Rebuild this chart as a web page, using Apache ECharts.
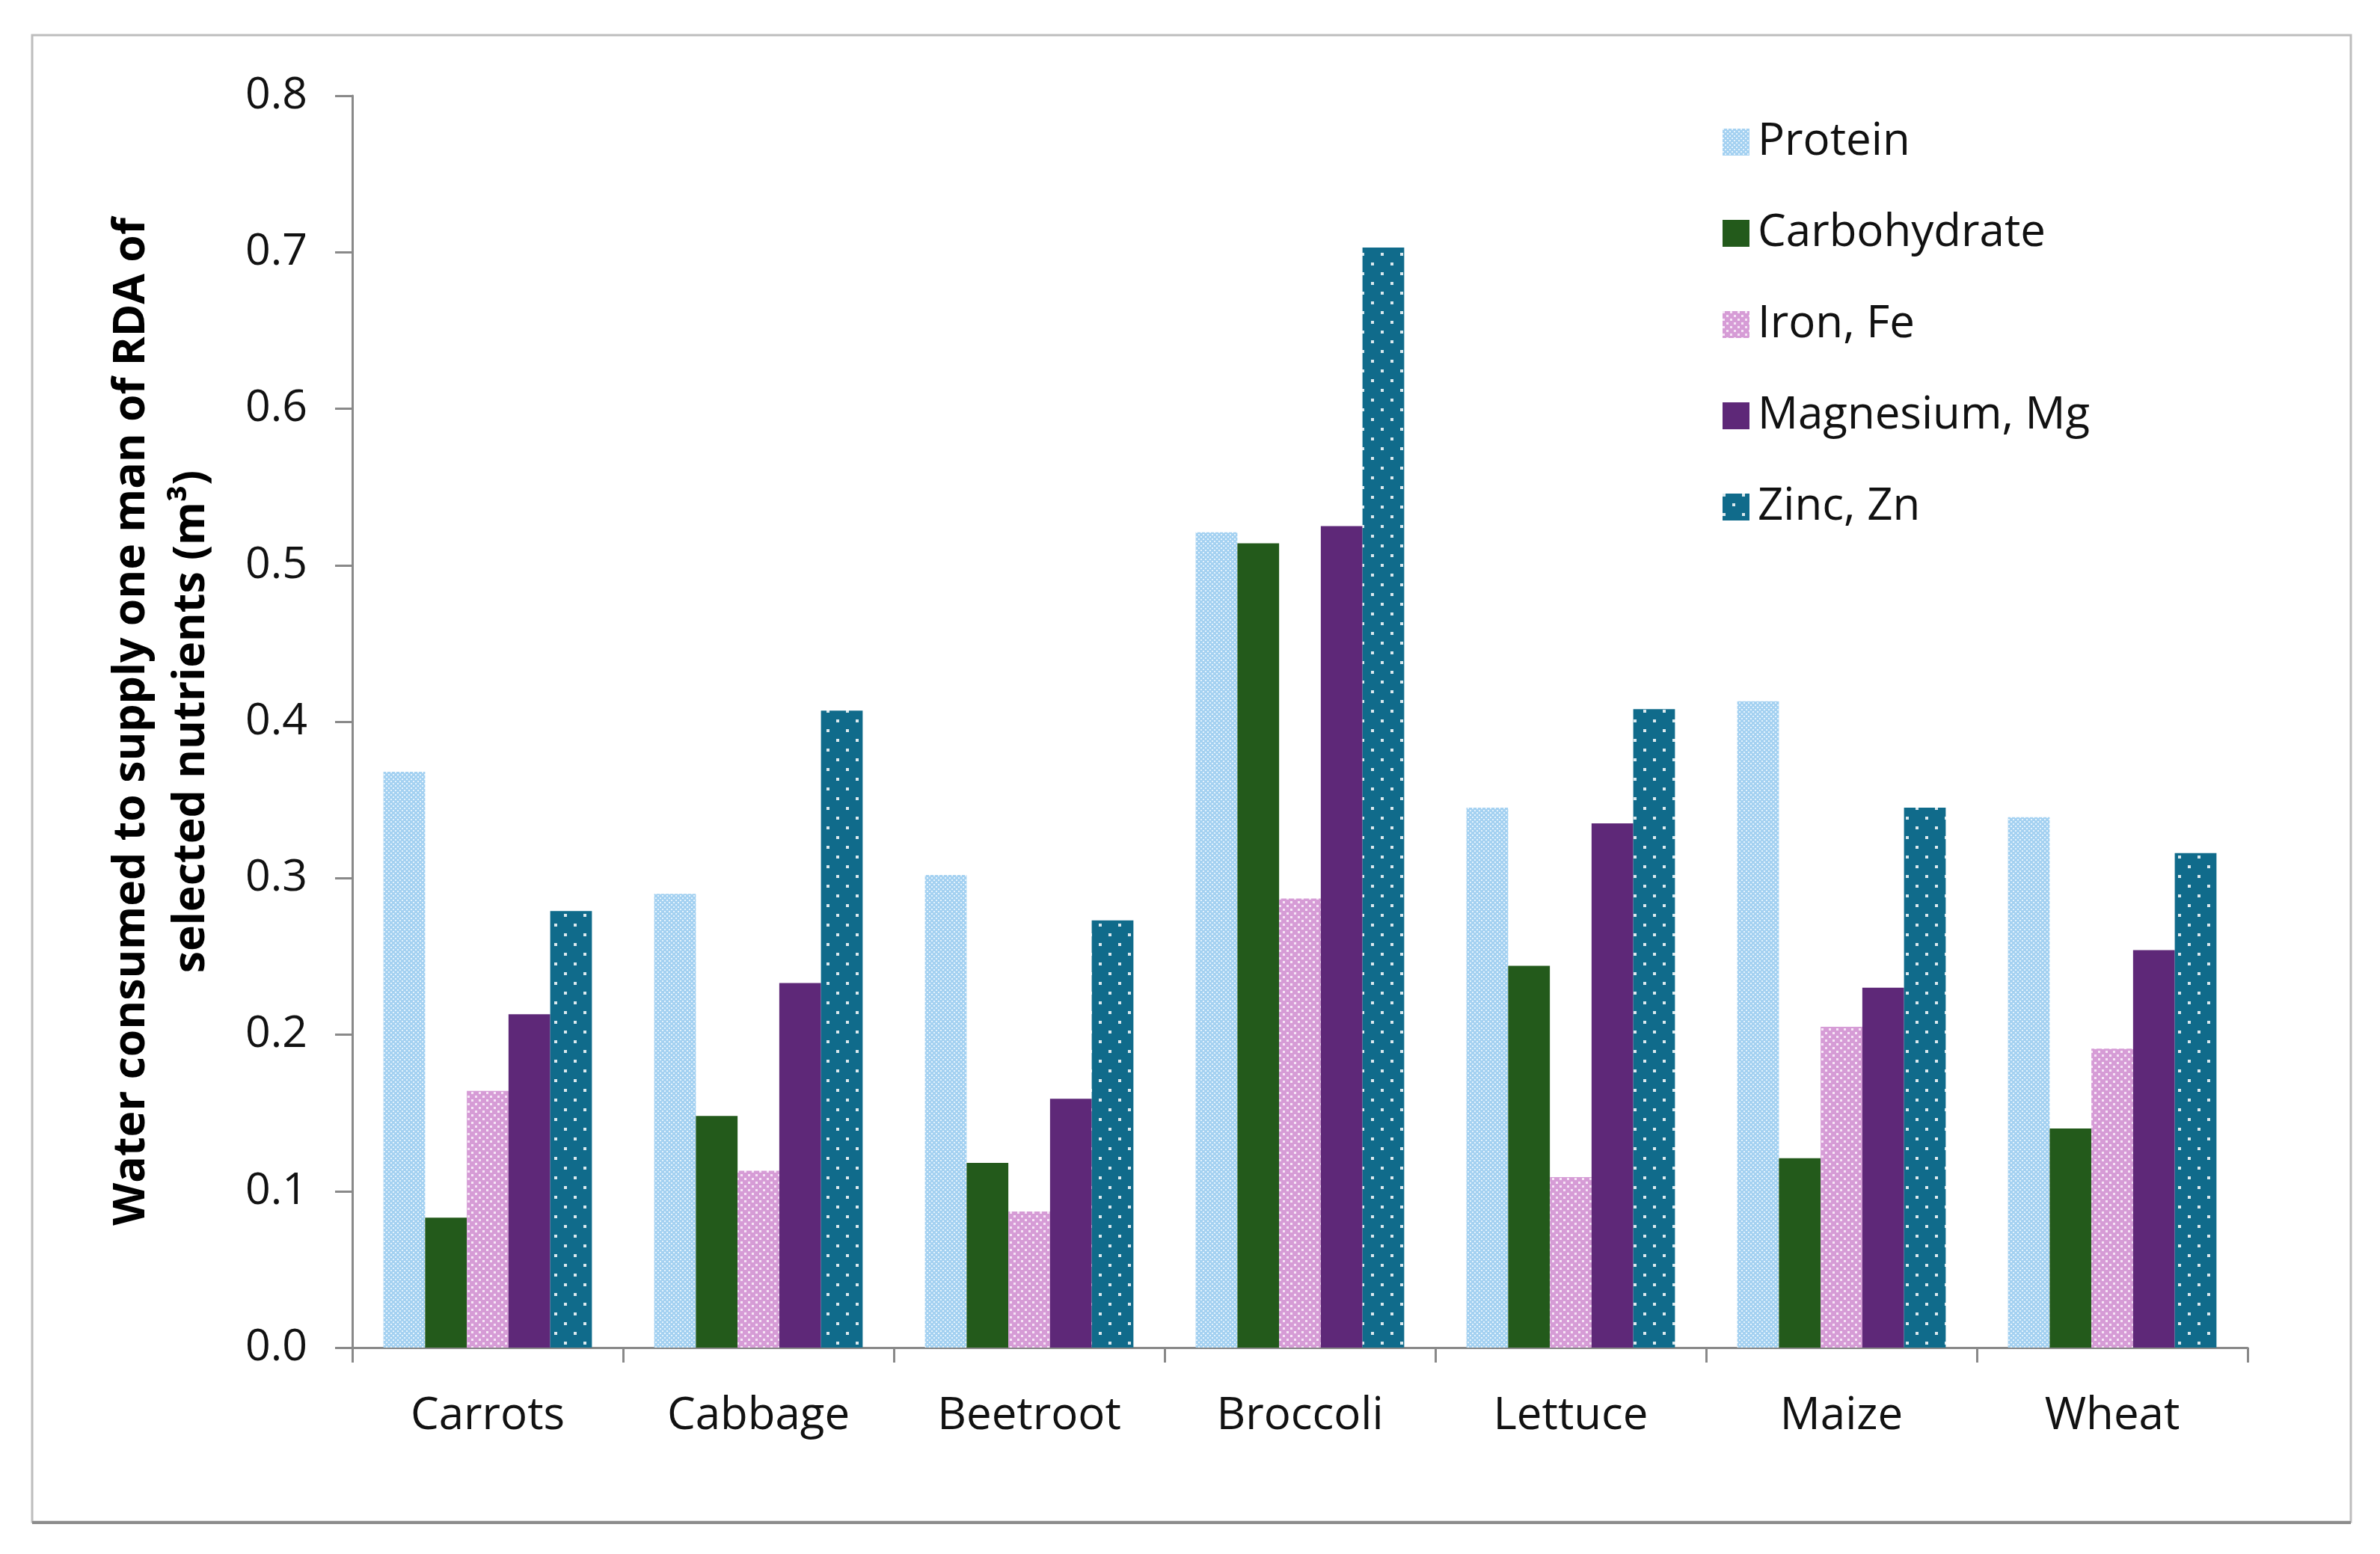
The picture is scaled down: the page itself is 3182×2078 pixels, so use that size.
<!DOCTYPE html>
<html>
<head>
<meta charset="utf-8">
<script src="https://cdn.jsdelivr.net/npm/echarts@6/dist/echarts.min.js"></script>
<style>
html, body { margin: 0; padding: 0; background: #fff; }
#chart { width: 3182px; height: 2078px; }
</style>
</head>
<body>
<div id="chart"></div>
<script>
var categories = ['Carrots', 'Cabbage', 'Beetroot', 'Broccoli', 'Lettuce', 'Maize', 'Wheat'];
var protein = [0.368, 0.290, 0.302, 0.521, 0.345, 0.413, 0.339];
var carbohydrate = [0.083, 0.148, 0.118, 0.514, 0.244, 0.121, 0.140];
var iron = [0.164, 0.113, 0.087, 0.287, 0.109, 0.205, 0.191];
var magnesium = [0.213, 0.233, 0.159, 0.525, 0.335, 0.230, 0.254];
var zinc = [0.279, 0.407, 0.273, 0.703, 0.408, 0.345, 0.316];
var yTicks = ['0.0', '0.1', '0.2', '0.3', '0.4', '0.5', '0.6', '0.7', '0.8'];

// small dotted fills, roughly like the excel pattern fills
function dots(bg, dot, size, step) {
	var c = document.createElement('canvas');
	c.width = step * 2;
	c.height = step * 2;
	var ctx = c.getContext('2d');
	ctx.fillStyle = bg;
	ctx.fillRect(0, 0, c.width, c.height);
	ctx.fillStyle = dot;
	ctx.fillRect(0, 0, size, size);
	ctx.fillRect(step, step, size, size);
	return { image: c, repeat: 'repeat' };
}

var fills = {
	protein: dots('#a4d1f1', '#e4f2fc', 2, 3),
	carb: '#235a1b',
	iron: dots('#d69cd6', '#f6e6f6', 3, 5),
	mg: '#5e2878',
	zinc: dots('#106b8b', '#dbe9ee', 4, 13)
};

var font = '"Open Sans", Lato, sans-serif';
var myChart = echarts.init(document.getElementById('chart'));

function bar(name, data, color) {
	return {
		name: name,
		type: 'bar',
		data: data,
		barGap: '0%',
		barCategoryGap: '23%',
		itemStyle: { color: color },
		emphasis: { disabled: true }
	};
}

var option = {
	backgroundColor: '#fff',
	animation: false,
	graphic: [{
		type: 'rect',
		shape: { x: 43, y: 47, width: 3100, height: 1988 },
		style: { fill: 'none', stroke: '#bdbdbd', lineWidth: 3 },
		z: -1
	}, {
		type: 'line',
		shape: { x1: 43, y1: 2036, x2: 3143, y2: 2036 },
		style: { stroke: '#8c8c8c', lineWidth: 4 },
		z: -1
	}],
	grid: {
		left: 471,
		right: 177,
		top: 128,
		bottom: 276
	},
	legend: {
		orient: 'vertical',
		left: 2298,
		top: 150,
		itemWidth: 36,
		itemHeight: 36,
		itemGap: 52,
		icon: 'rect',
		textStyle: { fontFamily: font, fontSize: 60, color: '#111', lineHeight: 70, padding: [0, 0, 0, 6] },
		data: ['Protein', 'Carbohydrate', 'Iron, Fe', 'Magnesium, Mg', 'Zinc, Zn']
	},
	xAxis: {
		type: 'category',
		data: categories,
		axisLine: { lineStyle: { color: '#898989', width: 3 } },
		axisTick: { show: true, length: 20, lineStyle: { color: '#898989', width: 3 } },
		axisLabel: { fontFamily: font, fontSize: 60, color: '#111', margin: 62 }
	},
	yAxis: {
		type: 'value',
		min: 0,
		max: 0.8,
		interval: 0.1,
		name: 'Water consumed to supply one man of RDA of\nselected nutrients (m³)',
		nameLocation: 'middle',
		nameGap: 175,
		nameTextStyle: { fontFamily: font, fontSize: 59, fontWeight: 'bold', color: '#000', lineHeight: 80 },
		splitLine: { show: false },
		axisLine: { show: true, lineStyle: { color: '#898989', width: 3 } },
		axisTick: { show: true, length: 23, lineStyle: { color: '#898989', width: 3 } },
		axisLabel: {
			fontFamily: font,
			fontSize: 59,
			color: '#111',
			margin: 60,
			formatter: function(v) {
				return yTicks[Math.round(v * 10)];
			}
		}
	},
	series: [
		bar('Protein', protein, fills.protein),
		bar('Carbohydrate', carbohydrate, fills.carb),
		bar('Iron, Fe', iron, fills.iron),
		bar('Magnesium, Mg', magnesium, fills.mg),
		bar('Zinc, Zn', zinc, fills.zinc)
	]
};
myChart.setOption(option);
</script>
</body>
</html>
